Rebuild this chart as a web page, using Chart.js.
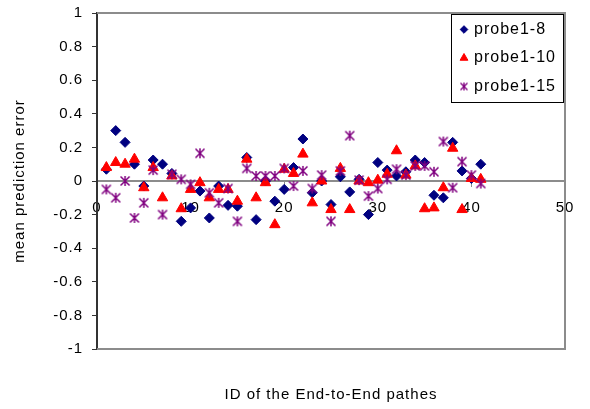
<!DOCTYPE html>
<html>
<head>
<meta charset="utf-8">
<script src="https://cdn.jsdelivr.net/npm/chart.js@4/dist/chart.umd.min.js"></script>
<style>
    html, body { margin: 0; padding: 0; background: #fff; }
    #wrap { width: 590px; height: 409px; }
</style>
</head>
<body>
<div id="wrap"><canvas id="chart"></canvas></div>
<script>
// Mean prediction error per end-to-end path, three probe sets.
const pathIds = [1, 2, 3, 4, 5, 6, 7, 8, 9, 10, 11, 12, 13, 14, 15, 16, 17, 18, 19, 20,
    21, 22, 23, 24, 25, 26, 27, 28, 29, 30, 31, 32, 33, 34, 35, 36, 37, 38, 39, 40, 41];
const probe8 = [0.07, 0.30, 0.23, 0.10, -0.03, 0.125, 0.10, 0.045, -0.24, -0.16,
    -0.06, -0.22, -0.03, -0.145, -0.15, 0.14, -0.23, 0.0, -0.12, -0.05,
    0.08, 0.25, -0.07, 0.0, -0.14, 0.025, -0.065, 0.01, -0.20, 0.11,
    0.065, 0.03, 0.055, 0.125, 0.11, -0.085, -0.10, 0.23, 0.06, 0.015, 0.10];
const probe10 = [0.08, 0.11, 0.10, 0.13, -0.04, 0.08, -0.10, 0.03, -0.165, -0.05,
    -0.01, -0.10, -0.05, -0.05, -0.12, 0.13, -0.10, -0.01, -0.26, 0.07,
    0.045, 0.16, -0.13, 0.0, -0.17, 0.075, -0.17, 0.0, -0.01, 0.005,
    0.04, 0.18, 0.035, 0.09, -0.165, -0.16, -0.04, 0.195, -0.17, 0.015, 0.01];
const probe15 = [-0.05, -0.10, 0.0, -0.22, -0.13, 0.065, -0.20, 0.04, 0.01, -0.02,
    0.165, -0.07, -0.13, -0.045, -0.24, 0.075, 0.03, 0.03, 0.03, 0.075,
    -0.03, 0.06, -0.045, 0.035, -0.24, 0.06, 0.27, 0.005, -0.09, -0.045,
    0.01, 0.07, 0.035, 0.09, 0.09, 0.055, 0.235, -0.04, 0.115, 0.035, -0.015];
const seriesNames = ['probe1-8', 'probe1-10', 'probe1-15'];
const xTickValues = [0, 10, 20, 30, 40, 50];
const yTickValues = [-1, -0.8, -0.6, -0.4, -0.2, 0, 0.2, 0.4, 0.6, 0.8, 1];
const xTitle = 'ID of the End-to-End pathes';
const yTitle = 'mean prediction error';

const FONT = "'Liberation Sans', Arial, sans-serif";
const NAVY = '#000080';
const RED = '#ff0000';
const PURPLE = '#800080';

function makeStar(color, arm, stem, width) {
    const size = Math.ceil(stem * 2 + 2);
    const c = document.createElement('canvas');
    c.width = size;
    c.height = size;
    const g = c.getContext('2d');
    const m = size / 2;
    g.strokeStyle = color;
    g.lineWidth = width;
    g.beginPath();
    g.moveTo(m - arm, m - arm);
    g.lineTo(m + arm, m + arm);
    g.moveTo(m + arm, m - arm);
    g.lineTo(m - arm, m + arm);
    g.moveTo(m, m - stem);
    g.lineTo(m, m + stem);
    g.stroke();
    return c;
}

const starMark = makeStar(PURPLE, 4.5, 5, 1.5);
const starLegend = makeStar(PURPLE, 3.5, 4, 1.3);

function toPoints(values) {
    return pathIds.map((id, i) => ({ x: id, y: values[i] }));
}

const spacingPlugin = {
    id: 'spacing',
    beforeDraw(chart) {
        chart.ctx.letterSpacing = '1px';
    },
};

const framePlugin = {
    id: 'frame',
    beforeDatasetsDraw(chart) {
        const { ctx, chartArea } = chart;
        ctx.save();
        ctx.strokeStyle = '#8c8c8c';
        ctx.lineWidth = 2;
        ctx.beginPath();
        ctx.moveTo(chartArea.left, chartArea.top);
        ctx.lineTo(chartArea.right, chartArea.top);
        ctx.lineTo(chartArea.right, chartArea.bottom);
        ctx.lineTo(chartArea.left, chartArea.bottom);
        ctx.stroke();
        ctx.restore();
    },
};

const titlesPlugin = {
    id: 'titles',
    afterDraw(chart) {
        const { ctx, chartArea } = chart;
        ctx.save();
        ctx.fillStyle = '#000';
        ctx.font = `15px ${FONT}`;
        ctx.textAlign = 'center';
        ctx.textBaseline = 'middle';
        ctx.fillText(xTitle, (chartArea.left + chartArea.right) / 2, 395);
        ctx.translate(20, (chartArea.top + chartArea.bottom) / 2);
        ctx.rotate(-Math.PI / 2);
        ctx.fillText(yTitle, 0, 0);
        ctx.restore();
    },
};

const legendPlugin = {
    id: 'boxLegend',
    afterDraw(chart) {
        const ctx = chart.ctx;
        ctx.save();
        ctx.fillStyle = '#fff';
        ctx.fillRect(451, 14, 112, 88);
        ctx.strokeStyle = '#000';
        ctx.lineWidth = 1;
        ctx.strokeRect(451.5, 14.5, 112, 88);
        ctx.font = `16px ${FONT}`;
        ctx.textAlign = 'left';
        ctx.textBaseline = 'middle';
        chart.data.datasets.forEach((ds, i) => {
            const y = 29.5 + i * 28.5;
            ctx.fillStyle = ds.backgroundColor;
            ctx.strokeStyle = ds.borderColor;
            if (ds.pointStyle === starMark) {
                ctx.drawImage(starLegend, 464 - starLegend.width / 2, y - starLegend.height / 2);
            } else {
                const r = ds.pointStyle === 'triangle' ? 4.5 : 3.8;
                Chart.helpers.drawPoint(ctx, { pointStyle: ds.pointStyle, radius: r, borderWidth: 1, rotation: 0 }, 464, y);
            }
            ctx.fillStyle = '#000';
            ctx.fillText(ds.label, 474, y);
        });
        ctx.restore();
    },
};

const ctx = document.getElementById('chart');
new Chart(ctx, {
    type: 'scatter',
    data: {
        datasets: [
            {
                label: seriesNames[0],
                data: toPoints(probe8),
                pointStyle: 'rectRot',
                pointRadius: 5,
                backgroundColor: NAVY,
                borderColor: NAVY,
                borderWidth: 1,
                order: 3,
            },
            {
                label: seriesNames[1],
                data: toPoints(probe10),
                pointStyle: 'triangle',
                pointRadius: 6,
                backgroundColor: RED,
                borderColor: RED,
                borderWidth: 1,
                order: 2,
            },
            {
                label: seriesNames[2],
                data: toPoints(probe15),
                pointStyle: starMark,
                pointRadius: 5,
                backgroundColor: PURPLE,
                borderColor: PURPLE,
                order: 1,
            },
        ],
    },
    options: {
        responsive: true,
        maintainAspectRatio: false,
        animation: false,
        events: [],
        layout: { padding: { left: 0, top: 13, right: 25, bottom: 60 } },
        plugins: {
            legend: { display: false },
            tooltip: { enabled: false },
        },
        scales: {
            x: {
                type: 'linear',
                position: { y: 0 },
                min: 0,
                max: 50,
                afterBuildTicks: (scale) => {
                    scale.ticks = xTickValues.map((v) => ({ value: v }));
                },
                afterFit: (scale) => {
                    scale.height = 0;
                    scale.paddingLeft = 0;
                    scale.paddingRight = 0;
                },
                grid: { drawOnChartArea: false, drawTicks: true, tickLength: 5, color: '#8c8c8c', lineWidth: 1 },
                border: { display: true, color: '#8c8c8c', width: 2 },
                ticks: {
                    padding: 13,
                    color: '#000',
                    maxRotation: 0,
                    autoSkip: false,
                    font: { family: FONT, size: 15 },
                },
            },
            y: {
                type: 'linear',
                position: 'left',
                min: -1,
                max: 1,
                afterBuildTicks: (scale) => {
                    scale.ticks = yTickValues.map((v) => ({ value: v }));
                },
                afterFit: (scale) => {
                    scale.width = 97;
                    scale.paddingTop = 0;
                    scale.paddingBottom = 0;
                },
                grid: { drawOnChartArea: false, drawTicks: true, tickLength: 5, color: '#333', lineWidth: 1 },
                border: { display: true, color: '#333', width: 2 },
                ticks: {
                    padding: 9,
                    color: '#000',
                    autoSkip: false,
                    font: { family: FONT, size: 15 },
                    callback: (v) => String(Math.round(v * 10) / 10),
                },
            },
        },
    },
    plugins: [spacingPlugin, framePlugin, titlesPlugin, legendPlugin],
});
</script>
</body>
</html>
